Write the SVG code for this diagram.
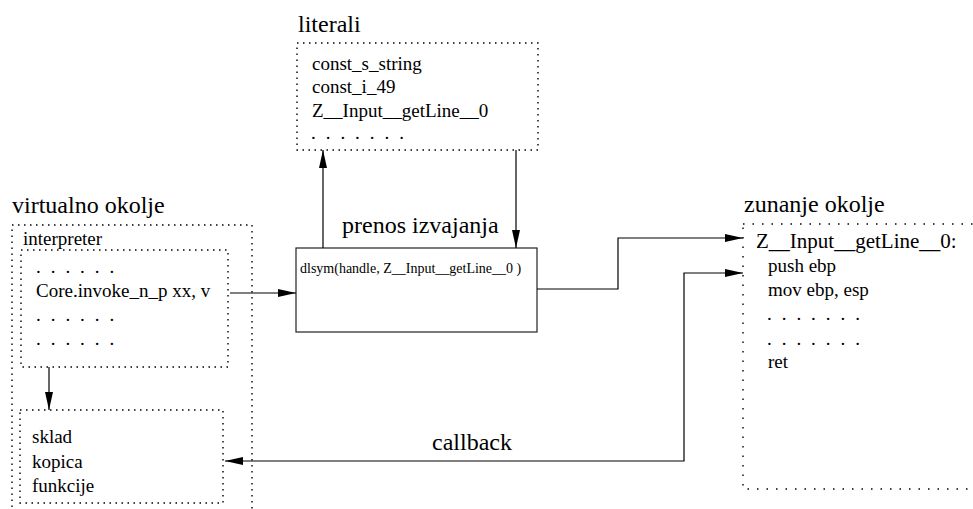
<svg xmlns="http://www.w3.org/2000/svg" width="973" height="509" viewBox="0 0 973 509">
  <style>
    text { font-family: "Liberation Serif", "Times New Roman", serif; fill: #000; }
    .title { font-size: 24px; }
    .item { font-size: 19px; }
    .small { font-size: 14px; }
    .dots { font-size: 19px; letter-spacing: 2.6px; }
    .dotted { fill: none; stroke: #000; stroke-width: 1.4; stroke-dasharray: 1.5 4.5; }
    .dotted-wide { fill: none; stroke: #000; stroke-width: 1.4; stroke-dasharray: 1.5 8; }
    .solid { fill: #fff; stroke: #222; stroke-width: 1.2; }
    .conn { fill: none; stroke: #000; stroke-width: 1.2; }
  </style>
  <defs>
    <marker id="arrow" viewBox="0 0 18 8" refX="18" refY="4" markerWidth="18" markerHeight="8" markerUnits="userSpaceOnUse" orient="auto-start-reverse">
      <path d="M0,0 L18,4 L0,8 Z" fill="#000"/>
    </marker>
  </defs>

  <rect width="973" height="509" fill="#fff"/>

  <!-- literal table -->
  <g id="literali">
    <text class="title" x="298" y="32">literali</text>
    <rect class="dotted" x="297" y="43" width="241" height="107"/>
    <text class="item" x="312" y="70">const_s_string</text>
    <text class="item" x="312" y="93">const_i_49</text>
    <text class="item" x="312" y="117">Z__Input__getLine__0</text>
    <text class="dots" x="311" y="139">. . . . . . .</text>
  </g>

  <!-- virtual environment -->
  <g id="virtualno-okolje">
    <text class="title" x="12" y="213">virtualno okolje</text>
    <rect class="dotted" x="12" y="225" width="240" height="300"/>
    <text class="item" x="23" y="245">interpreter</text>
  </g>

  <g id="interpreter">
    <rect class="dotted" x="21" y="250" width="207" height="117"/>
    <text class="dots" x="36" y="273">. . . . . .</text>
    <text class="item" x="36" y="297">Core.invoke_n_p xx, v</text>
    <text class="dots" x="36" y="321">. . . . . .</text>
    <text class="dots" x="36" y="345">. . . . . .</text>
  </g>

  <g id="pomnilnik">
    <rect class="dotted" x="20" y="410" width="203" height="93"/>
    <text class="item" x="32" y="443">sklad</text>
    <text class="item" x="32" y="468">kopica</text>
    <text class="item" x="32" y="492">funkcije</text>
  </g>

  <!-- execution transfer -->
  <g id="prenos-izvajanja">
    <text class="title" x="342" y="233">prenos izvajanja</text>
    <rect class="solid" x="296" y="248" width="241" height="84"/>
    <text class="small" x="300" y="273">dlsym(handle, Z__Input__getLine__0 )</text>
  </g>

  <!-- external environment -->
  <g id="zunanje-okolje">
    <text class="title" x="744" y="212">zunanje okolje</text>
    <rect class="dotted-wide" x="743" y="224" width="260" height="265"/>
    <text x="756" y="248" style="font-size:21px">Z__Input__getLine__0:</text>
    <text class="item" x="768" y="272">push ebp</text>
    <text class="item" x="768" y="296">mov ebp, esp</text>
    <text class="dots" x="767" y="320">. . . . . . .</text>
    <text class="dots" x="767" y="345">. . . . . . .</text>
    <text class="item" x="768" y="368">ret</text>
  </g>

  <!-- connectors -->
  <g id="connectors">
    <path class="conn" d="M230,293 H296" marker-end="url(#arrow)"/>
    <path class="conn" d="M323,248 V150" marker-end="url(#arrow)"/>
    <path class="conn" d="M516,150 V248" marker-end="url(#arrow)"/>
    <path class="conn" d="M537,289 H618 V238 H743" marker-end="url(#arrow)"/>
    <path class="conn" d="M225,461 H684 V273 H743" marker-start="url(#arrow)" marker-end="url(#arrow)"/>
    <path class="conn" d="M49,367 V410" marker-end="url(#arrow)"/>
    <text class="title" x="432" y="450">callback</text>
  </g>
</svg>
